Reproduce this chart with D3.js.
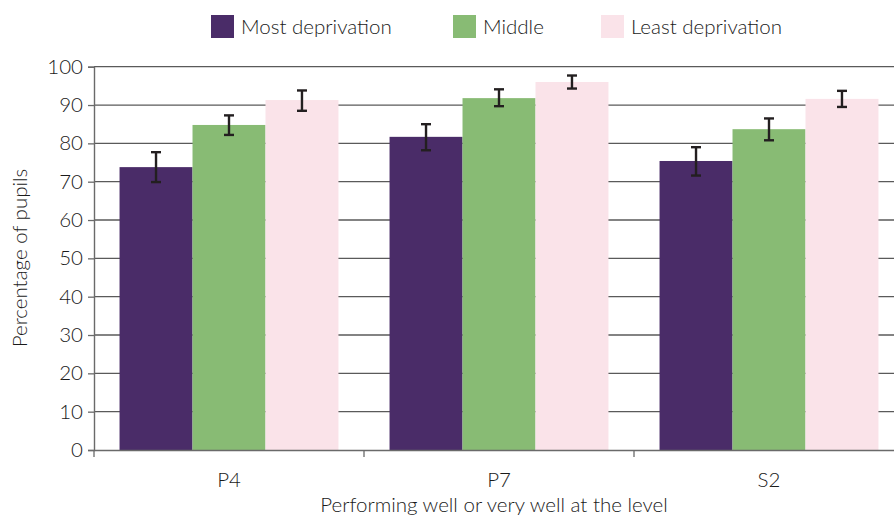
<!DOCTYPE html>
<html><head><meta charset="utf-8">
<script src="https://cdn.jsdelivr.net/npm/d3@7"></script>
<style>body{margin:0;background:#fff}svg{display:block}</style>
</head><body>
<svg id="c" width="894" height="517"></svg>
<script>
const categories = ["P4", "P7", "S2"];
const seriesNames = ["Most deprivation", "Middle", "Least deprivation"];
const seriesColors = ["#4a2c68", "#88bb74", "#fae3e9"];
const mostValues = [73.8, 81.7, 75.4];
const middleValues = [84.8, 91.8, 83.7];
const leastValues = [91.3, 96.0, 91.6];
const mostLow = [69.9, 78.2, 71.6], mostHigh = [77.7, 85.0, 79.0];
const middleLow = [82.2, 89.7, 80.8], middleHigh = [87.3, 94.1, 86.5];
const leastLow = [88.5, 94.3, 89.5], leastHigh = [93.8, 97.7, 93.7];
const yTicks = [0,10,20,30,40,50,60,70,80,90,100];

const series = [
  {name: seriesNames[0], color: seriesColors[0], v: mostValues, lo: mostLow, hi: mostHigh},
  {name: seriesNames[1], color: seriesColors[1], v: middleValues, lo: middleLow, hi: middleHigh},
  {name: seriesNames[2], color: seriesColors[2], v: leastValues, lo: leastLow, hi: leastHigh}
];

const font = "Lato, 'Open Sans', sans-serif";
const fontWeight = 300;
const textColor = "#1a1a1a";
const svg = d3.select("#c");
const pLeft = 94, pRight = 904, pTop = 66.7, pBottom = 450;

const x = d3.scaleBand().domain(categories).range([pLeft, pRight]);
const xInner = d3.scaleBand().domain(seriesNames).range([0, x.bandwidth()]).paddingOuter(0.35).paddingInner(0);
const y = d3.scaleLinear().domain([0, 100]).range([pBottom, pTop]);

// gridlines
svg.append("g").selectAll("line").data(yTicks.filter(d => d > 0)).join("line")
  .attr("x1", pLeft).attr("x2", pRight)
  .attr("y1", d => y(d)).attr("y2", d => y(d))
  .attr("stroke", "#5a5a5a").attr("stroke-width", 1.3);

// bars
const rows = [];
categories.forEach((c, i) => series.forEach(s => rows.push({c, s, v: s.v[i], lo: s.lo[i], hi: s.hi[i]})));
svg.append("g").selectAll("rect").data(rows).join("rect")
  .attr("x", d => x(d.c) + xInner(d.s.name))
  .attr("width", xInner.bandwidth())
  .attr("y", d => y(d.v))
  .attr("height", d => y(0) - y(d.v))
  .attr("fill", d => d.s.color);

// error bars
const eb = svg.append("g").attr("stroke", "#231f20").attr("stroke-width", 2.4);
rows.forEach(d => {
  const cx = x(d.c) + xInner(d.s.name) + xInner.bandwidth() / 2;
  eb.append("line").attr("x1", cx).attr("x2", cx).attr("y1", y(d.lo)).attr("y2", y(d.hi));
  eb.append("line").attr("x1", cx - 5).attr("x2", cx + 5).attr("y1", y(d.lo)).attr("y2", y(d.lo));
  eb.append("line").attr("x1", cx - 5).attr("x2", cx + 5).attr("y1", y(d.hi)).attr("y2", y(d.hi));
});

// y axis
const yAxis = svg.append("g").attr("transform", `translate(${pLeft},0)`)
  .call(d3.axisLeft(y).tickValues(yTicks).tickSize(6).tickPadding(5));
yAxis.select(".domain").attr("stroke", "#6a6a6a").attr("stroke-width", 1.4);
yAxis.selectAll(".tick line").attr("stroke", "#6a6a6a").attr("stroke-width", 1.3);
yAxis.selectAll("text").attr("font-family", font).attr("font-weight", fontWeight).attr("font-size", 20.5).attr("fill", textColor);

// x axis
const xAxis = svg.append("g").attr("transform", `translate(0,${pBottom})`)
  .call(d3.axisBottom(x).tickSize(0).tickPadding(22));
xAxis.select(".domain").attr("stroke", "#6a6a6a").attr("stroke-width", 1.6);
xAxis.selectAll("text").attr("font-family", font).attr("font-weight", fontWeight).attr("font-size", 20.5).attr("fill", textColor);
// category boundary ticks
svg.append("g").selectAll("line").data(categories).join("line")
  .attr("x1", d => x(d)).attr("x2", d => x(d))
  .attr("y1", pBottom).attr("y2", pBottom + 7)
  .attr("stroke", "#6a6a6a").attr("stroke-width", 1.3);

// axis titles
svg.append("text").attr("x", 494).attr("y", 512).attr("text-anchor", "middle")
  .attr("font-family", font).attr("font-weight", fontWeight).attr("font-size", 20.5).attr("fill", textColor)
  .text("Performing well or very well at the level");
svg.append("text").attr("transform", "translate(27,258) rotate(-90)").attr("text-anchor", "middle")
  .attr("font-family", font).attr("font-weight", fontWeight).attr("font-size", 20.5).attr("fill", textColor)
  .text("Percentage of pupils");

// legend
const legX = [211, 453, 601];
const leg = svg.append("g");
series.forEach((s, i) => {
  leg.append("rect").attr("x", legX[i]).attr("y", 15).attr("width", 23).attr("height", 23).attr("fill", s.color);
  leg.append("text").attr("x", legX[i] + 30).attr("y", 34)
    .attr("font-family", font).attr("font-weight", fontWeight).attr("font-size", 20.5).attr("fill", textColor).text(s.name);
});
</script>
</body></html>
